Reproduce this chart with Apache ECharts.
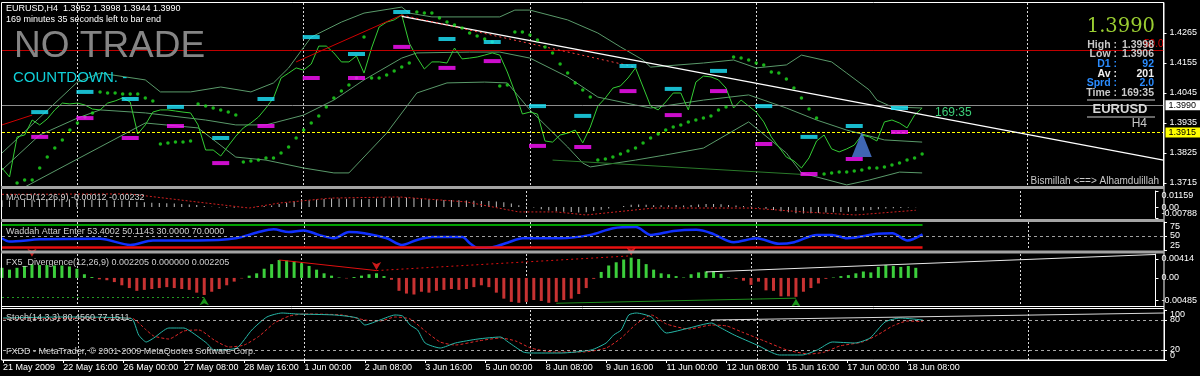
<!DOCTYPE html>
<html><head><meta charset="utf-8">
<script src="https://cdn.jsdelivr.net/npm/echarts@6/dist/echarts.min.js"></script>
<style>html,body{margin:0;padding:0;background:#000;}#c{width:1200px;height:376px;}</style>
</head><body><div id="c"></div>
<script>
// ---------- DATA ----------
const tickLabels = ['21 May 2009','22 May 16:00','26 May 00:00','27 May 08:00','28 May 16:00','1 Jun 00:00','2 Jun 08:00','3 Jun 16:00','5 Jun 00:00','8 Jun 08:00','9 Jun 16:00','11 Jun 00:00','12 Jun 08:00','15 Jun 16:00','17 Jun 00:00','18 Jun 08:00'];
const barsPerLabel = 8;
const slotCount = 155;          // bars + empty space on the right
const weekSeparators = [10, 40, 70, 100, 136];

const closePrices = [1.3770,1.3737,1.3884,1.3891,1.3946,1.3928,1.3950,1.3983,1.4008,1.4005,
 1.4008,1.4001,1.3986,1.3983,1.4008,1.4016,1.4027,1.4012,1.3895,1.3928,
 1.3975,1.3983,1.3983,1.3979,1.3975,1.3972,1.3928,1.3836,1.3836,1.3814,
 1.3851,1.3887,1.3917,1.3935,1.3957,1.3990,1.4027,1.4100,1.4118,1.4137,
 1.4129,1.4151,1.4217,1.4217,1.4192,1.4159,1.4159,1.4181,1.4118,1.4210,
 1.4287,1.4305,1.4313,1.4331,1.4228,1.4177,1.4133,1.4159,1.4159,1.4155,
 1.4210,1.4170,1.4173,1.4177,1.4184,1.4192,1.4184,1.4122,1.4049,1.3968,
 1.3975,1.3968,1.3869,1.3865,1.3891,1.3898,1.3909,1.3862,1.3920,1.3997,
 1.4027,1.4063,1.4071,1.4100,1.4137,1.4067,1.3997,1.3983,1.4012,1.4045,
 1.4045,1.3983,1.4085,1.4107,1.4104,1.4093,1.4063,1.3990,1.4019,1.3997,
 1.3975,1.3939,1.3884,1.3847,1.3810,1.3796,1.3770,1.3807,1.3869,1.3891,
 1.3840,1.3829,1.3840,1.3854,1.3891,1.3884,1.3869,1.3939,1.3946,1.3935,
 1.3917,1.3964,1.3990];

const sarValues = [null,null,1.3715,1.3726,1.3726,1.3770,1.3810,1.3843,1.3873,1.3909,
 1.3935,1.3957,1.3972,1.4049,1.4045,1.4045,1.4041,1.4041,1.4041,1.4027,
 1.4016,1.3858,1.3862,1.3865,1.3865,1.3869,1.4005,1.3997,1.3990,1.3983,
 1.3975,1.3964,1.3792,1.3796,1.3799,1.3807,1.3807,1.3825,1.3847,1.3880,
 1.3909,1.3935,1.3961,1.3994,1.4027,1.4052,1.4074,1.4100,1.4250,1.4100,
 1.4100,1.4111,1.4126,1.4140,1.4155,1.4342,1.4338,1.4338,1.4320,1.4305,
 1.4294,1.4283,1.4265,1.4254,1.4243,1.4232,1.4071,1.4074,1.4269,1.4269,
 1.4258,1.4239,1.4214,1.4192,1.4151,1.4118,1.4082,1.4056,1.4030,1.3799,
 1.3803,1.3810,1.3821,1.3832,1.3843,1.3862,1.3880,1.3895,1.3909,1.3920,
 1.3928,1.3939,1.3946,1.3953,1.3961,1.3983,1.3994,1.4177,1.4173,1.4166,
 1.4155,1.4148,1.4122,1.4118,1.4096,1.4063,1.4027,1.3986,1.3953,1.3748,
 1.3752,1.3755,1.3755,1.3759,1.3763,1.3770,1.3770,1.3774,1.3781,1.3788,
 1.3799,1.3807,1.3821];

const bbUpper = [[0,1.3825],[10,1.4085],[13,1.4118],[19,1.4093],[21,1.4049],[25,1.4049],[29,1.4067],[33,1.4049],[36,1.4082],[38,1.4137],[41,1.4250],[45,1.4305],[48,1.4338],[53,1.4360],[54,1.4338],[57,1.4324],[66,1.4324],[68,1.4349],[70,1.4349],[75,1.4313],[79,1.4265],[82,1.4214],[85,1.4166],[86,1.4140],[93,1.4155],[97,1.4166],[100,1.4137],[104,1.4148],[106,1.4184],[110,1.4159],[112,1.4118],[115,1.4056],[116,1.4019],[118,1.3994],[122,1.3990]];
const bbMiddle = [[0,1.3763],[5,1.3891],[10,1.3953],[13,1.3983],[19,1.3972],[27,1.3946],[31,1.3928],[35,1.3928],[40,1.3964],[44,1.4019],[48,1.4093],[53,1.4173],[55,1.4192],[62,1.4195],[66,1.4195],[70,1.4173],[75,1.4104],[79,1.4030],[84,1.4001],[86,1.3990],[93,1.4019],[99,1.4038],[104,1.3990],[108,1.3946],[112,1.3909],[117,1.3873],[122,1.3865]];
const bbLower = [[0,1.3653],[3,1.3700],[13,1.3847],[19,1.3935],[26,1.3917],[31,1.3810],[35,1.3799],[40,1.3770],[44,1.3752],[46,1.3752],[51,1.3898],[55,1.4045],[59,1.4082],[64,1.4085],[67,1.4082],[70,1.3983],[75,1.3847],[77,1.3788],[78,1.3774],[84,1.3799],[88,1.3818],[93,1.3843],[99,1.3939],[104,1.3825],[106,1.3752],[112,1.3708],[115,1.3726],[119,1.3755],[122,1.3752]];

const dayMarkIdx = [5,11,17,23,29,35,41,47,53,59,65,71,77,83,89,95,101,107,113,119];
const dayHighMarks = [1.3975,1.4049,1.4023,1.3994,1.3880,1.4023,1.4250,1.4188,1.4342,1.4243,1.4232,1.3997,1.3961,1.4144,1.4060,1.4126,1.3997,1.3884,1.3924,1.3990];
const dayLowMarks = [1.3884,1.3953,1.3880,1.3924,1.3788,1.3924,1.4100,1.4100,1.4214,1.4137,1.4162,1.3851,1.3847,1.4052,1.3964,1.4052,1.3858,1.3748,1.3803,1.3902];
const signalTriangle = [[114, 1.3856]];

const priceTicks = [1.3715,1.3825,1.3935,1.4045,1.4155,1.4265];
const fiboLevels = [[1.4187,'50.0'],[1.3738,'38.2']];
const bidPrice = 1.3990;
const yellowLevel = 1.3915;

const macdHist = [0.0050,0.0048,0.0052,0.0053,0.0055,0.0055,0.0056,0.0057,0.0058,0.0057,
 0.0056,0.0054,0.0052,0.0050,0.0049,0.0048,0.0047,0.0045,0.0038,0.0034,
 0.0031,0.0029,0.0027,0.0025,0.0022,0.0019,0.0015,0.0008,0.0003,-0.0003,
 -0.0005,-0.0004,-0.0002,0.0000,0.0003,0.0007,0.0012,0.0022,0.0032,0.0040,
 0.0045,0.0050,0.0055,0.0059,0.0061,0.0061,0.0060,0.0060,0.0057,0.0058,
 0.0062,0.0065,0.0068,0.0071,0.0069,0.0065,0.0060,0.0057,0.0054,0.0051,
 0.0051,0.0049,0.0047,0.0045,0.0044,0.0043,0.0041,0.0035,0.0026,0.0014,
 0.0005,-0.0003,-0.0015,-0.0025,-0.0030,-0.0034,-0.0036,-0.0040,-0.0037,-0.0029,
 -0.0020,-0.0010,0.0000,0.0008,0.0017,0.0019,0.0016,0.0013,0.0013,0.0014,
 0.0015,0.0011,0.0015,0.0019,0.0022,0.0023,0.0021,0.0015,0.0012,0.0008,
 0.0004,-0.0003,-0.0012,-0.0021,-0.0030,-0.0037,-0.0044,-0.0047,-0.0045,-0.0042,
 -0.0040,-0.0038,-0.0036,-0.0033,-0.0028,-0.0024,-0.0021,-0.0016,-0.0011,-0.0008,
 -0.0006,-0.0003,-0.00012];
const macdSignal = [[0,0.0092],[17,0.0095],[26,0.0037],[33,-0.0007],[37,0.0029],[44,0.0065],[53,0.0073],[62,0.0037],[69,-0.0035],[74,-0.0035],[78,-0.0057],[87,-0.0007],[100,-0.0007],[107,-0.0035],[114,-0.0057],[122,-0.0023]];
const macdEdgeTicks = [-0.00788, 0.01159];
const macdEdgeText = ['-0.00788','0.01159'];
const macdInnerTicks = [0];
const macdInnerText = ['0.00'];

const waeLine = [[0,46],[1,40],[5,44],[13,45],[17,34],[20,42],[26,42],[31,46],[34,57],[36,62],[38,57],[40,60],[42,52],[44,46],[46,57],[48,55],[51,46],[53,34],[55,43],[57,48],[61,48],[62,37],[63,29],[65,30],[67,38],[69,46],[74,46],[78,52],[81,64],[84,66],[86,52],[89,59],[92,61],[94,55],[97,39],[100,46],[103,36],[105,39],[108,52],[110,52],[112,46],[116,54],[118,55],[120,42],[122,53]];
const waeLevels = [70, 30];
const waeTicks = [25, 50, 75];

const fx5Hist = [0.0022,0.0018,0.0022,0.0026,0.0030,0.0028,0.0028,0.0027,0.0027,0.0025,0.0020,0.0008,0.0002,
 -0.0003,-0.0005,-0.0009,-0.0016,-0.0022,-0.0028,-0.0026,-0.0024,-0.0022,-0.0020,-0.0022,-0.0024,-0.0026,-0.0032,-0.0037,-0.0030,-0.0024,-0.0016,-0.0008,-0.0001,
 0.0005,0.0010,0.0020,0.0030,0.0039,0.0038,0.0036,0.0032,0.0026,0.0018,0.0010,0.0005,0.0001,-0.0001,0.0002,0.0005,0.0008,0.0010,0.0004,
 -0.0004,-0.0028,-0.0034,-0.0036,-0.0030,-0.0032,-0.0028,-0.0026,-0.0024,-0.0026,-0.0024,-0.0020,-0.0016,-0.0020,-0.0032,-0.0045,-0.0052,-0.0054,-0.0052,-0.0048,-0.0050,-0.0054,-0.0052,-0.0048,-0.0045,-0.0035,-0.0022,-0.0002,
 0.0013,0.0027,0.0034,0.0040,0.0044,0.0041,0.0030,0.0018,0.0010,0.0008,0.0004,0.0001,0.0008,0.0012,0.0014,0.0014,0.0009,0.0001,
 -0.0002,-0.0006,-0.0015,-0.0008,-0.0027,-0.0028,-0.0040,-0.0040,-0.0041,-0.0030,-0.0022,-0.0012,-0.0002,
 0.0001,0.0004,0.0006,0.0010,0.0014,0.0012,0.0024,0.0028,0.0026,0.0024,0.0026,0.0022];
const fx5DownArrows = [[4,0.0046],[50,0.0017],[84,0.0049]];
const fx5UpArrows = [[27,-0.0042],[106,-0.0045]];
const fx5Ticks = [-0.00485, 0, 0.00414];
const fx5TickText = ['-0.00485','0.00','0.00414'];

const stochMain = [[0,84],[8,86],[17,83],[18,50],[19,36],[20,44],[22,64],[24,64],[25,56],[27,34],[28,20],[31,24],[33,60],[35,86],[37,94],[39,92],[44,90],[47,84],[48,70],[50,80],[52,90],[53,88],[54,70],[55,60],[56,34],[58,24],[60,34],[63,42],[66,46],[67,36],[69,16],[70,14],[74,14],[78,20],[80,34],[81,50],[82,60],[83,90],[84,94],[86,86],[88,54],[91,64],[94,74],[95,66],[97,50],[100,30],[103,10],[106,10],[108,20],[110,36],[113,34],[115,44],[117,76],[119,84],[122,80]];
const stochSignal = [[0,82],[17,84],[19,60],[20,48],[22,42],[24,58],[26,60],[28,40],[30,26],[32,30],[34,48],[36,74],[38,88],[40,92],[45,90],[48,80],[50,78],[52,86],[54,82],[56,58],[58,36],[60,30],[63,38],[66,44],[68,38],[70,24],[73,16],[77,16],[80,24],[82,44],[84,72],[86,90],[88,72],[91,62],[94,70],[96,68],[98,56],[101,38],[104,20],[107,12],[109,16],[111,28],[114,36],[116,50],[118,68],[120,78],[122,77]];
const stochLevels = [80, 20];
const stochEdgeTicks = [0, 100];
const stochInnerTicks = [20, 80];

const infoRows = [['High :','1.3998','#c8c8c8'],['Low :','1.3906','#c8c8c8'],['D1 :','92','#2a8cff'],['Av :','201','#f0f0f0'],['Sprd :','2.0','#2a8cff'],['Time :','169:35','#c8c8c8']];

// ---------- BUILD ----------
const FONT = '"Liberation Sans", Arial, sans-serif';
const categories = [];
for (let i = 0; i < slotCount; i++) categories.push(String(i));
const isLabelIdx = (i) => i % barsPerLabel === 0 && (i / barsPerLabel) < tickLabels.length;
const zip = (a, b) => a.map((v, k) => [v, b[k]]);

const grids = [
  {left:2, right:36, top:3, height:183},
  {left:2, right:36, top:191, height:27},
  {left:2, right:36, top:222, height:28},
  {left:2, right:36, top:254, height:52},
  {left:2, right:36, top:310, height:50}
];
const xAxes = grids.map((g, gi) => ({
  type:'category', gridIndex:gi, data:categories, boundaryGap:false,
  axisLine:{show: gi === 4, lineStyle:{color:'#fff', width:1}},
  axisTick:{show: gi === 4, interval:(i) => isLabelIdx(i), length:3, lineStyle:{color:'#fff'}},
  axisLabel:{show: gi === 4, interval:(i) => isLabelIdx(i), formatter:(v, i) => tickLabels[Math.round(i / barsPerLabel)] || '',
    align:'left', color:'#fff', fontSize:9, margin:3, fontFamily:FONT},
  splitLine:{show:true, interval:(i) => weekSeparators.indexOf(i) >= 0, lineStyle:{color:'#d8d8d8', type:[2,2], width:1}}
}));
function yAxisFor(gi, min, max, ticks, fmt, edge, showLine) {
  return {
    type:'value', gridIndex:gi, position:'right', min:min, max:max,
    splitLine:{show:false},
    axisLine:{show:showLine, lineStyle:{color:'#fff', width:1}},
    axisTick:{show:true, customValues:ticks, length:3, lineStyle:{color:'#fff'}},
    axisLabel:{customValues:ticks, formatter:fmt, color:'#fff', fontSize:9, margin:6, fontFamily:FONT,
      showMinLabel:true, showMaxLabel:true, hideOverlap:false,
      verticalAlignMinLabel: edge ? 'bottom' : 'middle',
      verticalAlignMaxLabel: edge ? 'top' : 'middle'}
  };
}
const lookup = (vals, texts) => (v) => { let k = 0, d = 1e9; vals.forEach((x, j) => { if (Math.abs(x - v) < d) { d = Math.abs(x - v); k = j; } }); return texts[k]; };
const yAxes = [
  yAxisFor(0, 1.3704, 1.4375, priceTicks, (v) => v.toFixed(4), false, true),
  yAxisFor(1, -0.00788, 0.01159, macdEdgeTicks, lookup(macdEdgeTicks, macdEdgeText), true, true),
  yAxisFor(2, 25, 75, waeTicks, (v) => String(Math.round(v)), true, true),
  yAxisFor(3, -0.0061, 0.0052, fx5Ticks, lookup(fx5Ticks, fx5TickText), false, true),
  yAxisFor(4, 0, 100, stochEdgeTicks, (v) => String(Math.round(v)), true, true),
  yAxisFor(1, -0.00788, 0.01159, macdInnerTicks, lookup(macdInnerTicks, macdInnerText), false, false),
  yAxisFor(4, 0, 100, stochInnerTicks, (v) => String(Math.round(v)), false, false)
];

const seg = (a, b, style) => [{coord:a, lineStyle:style}, {coord:b}];
const boxLabel = (txt, bg) => ({show:true, position:'end', formatter:txt, color:'#000', backgroundColor:bg, padding:[1,8,0,3], fontSize:9, distance:2, fontFamily:FONT});

const series = [
  {type:'line', xAxisIndex:0, yAxisIndex:0, data:bbUpper, symbol:'none', lineStyle:{color:'#5a9a6a', width:1}, z:2},
  {type:'line', xAxisIndex:0, yAxisIndex:0, data:bbMiddle, symbol:'none', lineStyle:{color:'#5a9a6a', width:1}, z:2},
  {type:'line', xAxisIndex:0, yAxisIndex:0, data:bbLower, symbol:'none', lineStyle:{color:'#5a9a6a', width:1}, z:2},
  {type:'line', xAxisIndex:0, yAxisIndex:0, data:closePrices, symbol:'none', lineStyle:{color:'#34cc34', width:1}, z:4,
    markLine:{silent:true, symbol:['none','none'], animation:false, label:{show:false},
      data:[
        {yAxis:fiboLevels[0][0], lineStyle:{color:'#c00000', type:'solid', width:1}, label:{show:true, position:'insideEndTop', formatter:fiboLevels[0][1], color:'#e00000', fontSize:10, distance:[0,1], fontFamily:FONT}},
        {yAxis:fiboLevels[1][0], lineStyle:{color:'#c00000', type:'solid', width:1}, label:{show:true, position:'insideEndTop', formatter:fiboLevels[1][1], color:'#e00000', fontSize:10, distance:[0,1], fontFamily:FONT}},
        {yAxis:bidPrice, lineStyle:{color:'#8c8c8c', type:'solid', width:1}, label:boxLabel('1.3990', '#ffffff')},
        {yAxis:yellowLevel, lineStyle:{color:'#ffff00', type:[3,2], width:1}, label:boxLabel('1.3915', '#ffff00')},
        seg([0,1.3928],[4,1.3964], {color:'#d00000', type:'solid', width:1}),
        seg([39,1.4159],[53,1.4331], {color:'#d00000', type:'solid', width:1}),
        seg([73,1.3799],[107,1.3745], {color:'#2a7a2a', type:'solid', width:1}),
        seg([53,1.4326],[154,1.3799], {color:'#ffffff', type:'solid', width:1.2}),
        seg([53,1.4331],[84,1.4140], {color:'#ff4040', type:[2,3], width:1})
      ]}},
  {type:'scatter', xAxisIndex:0, yAxisIndex:0, data:sarValues, symbol:'circle', symbolSize:3.5, itemStyle:{color:'#1fe01f'}, z:5},
  {type:'scatter', xAxisIndex:0, yAxisIndex:0, data:zip(dayMarkIdx, dayHighMarks), symbol:'rect', symbolSize:[17,4], itemStyle:{color:'#1ee8ff'}, z:6},
  {type:'scatter', xAxisIndex:0, yAxisIndex:0, data:zip(dayMarkIdx, dayLowMarks), symbol:'rect', symbolSize:[17,4], itemStyle:{color:'#ff10ff'}, z:6},
  {type:'scatter', xAxisIndex:0, yAxisIndex:0, data:signalTriangle, symbol:'triangle', symbolSize:[20,25], itemStyle:{color:'#4f7fe0'}, z:6},

  {type:'bar', xAxisIndex:1, yAxisIndex:1, data:macdHist, barWidth:1, itemStyle:{color:'#c0c0c0'}, z:3},
  {type:'line', xAxisIndex:1, yAxisIndex:1, data:macdSignal, symbol:'none', lineStyle:{color:'#d02020', type:[2,2], width:1}, z:4},

  {type:'line', xAxisIndex:2, yAxisIndex:2, data:waeLine, symbol:'none', smooth:0.3, lineStyle:{color:'#1030ff', width:2.5}, z:4,
    markLine:{silent:true, symbol:['none','none'], animation:false, label:{show:false},
      data:[
        {yAxis:50, lineStyle:{color:'#a0a0a0', type:[3,3], width:1}},
        seg([0,waeLevels[0]],[122,waeLevels[0]], {color:'#00a000', type:'solid', width:2}),
        seg([0,waeLevels[1]],[122,waeLevels[1]], {color:'#e81010', type:'solid', width:2.5})
      ]}},

  {type:'bar', xAxisIndex:3, yAxisIndex:3, data:fx5Hist, barWidth:3, itemStyle:{color:(p) => p.value >= 0 ? '#3ccf3c' : '#c83232'}, z:3,
    markLine:{silent:true, symbol:['none','none'], animation:false, label:{show:false},
      data:[
        seg([37,0.0039],[50,0.0016], {color:'#e01010', type:'solid', width:1}),
        seg([50,0.0016],[84,0.0048], {color:'#e01010', type:[2,3], width:1}),
        seg([0,-0.0041],[27,-0.0041], {color:'#229922', type:[2,3], width:1}),
        seg([74,-0.0055],[106,-0.0044], {color:'#1e8c1e', type:'solid', width:1}),
        seg([94,0.0013],[154,0.0051], {color:'#e8e8e8', type:'solid', width:1})
      ]}},
  {type:'scatter', xAxisIndex:3, yAxisIndex:3, data:fx5DownArrows, symbol:'arrow', symbolRotate:180, symbolSize:[7,8], itemStyle:{color:'#ff2020'}, z:6},
  {type:'scatter', xAxisIndex:3, yAxisIndex:3, data:fx5UpArrows, symbol:'arrow', symbolSize:[7,8], itemStyle:{color:'#22bb22'}, z:6},

  {type:'line', xAxisIndex:4, yAxisIndex:4, data:stochSignal, symbol:'none', smooth:0.2, lineStyle:{color:'#e02828', type:[3,2], width:1}, z:3,
    markLine:{silent:true, symbol:['none','none'], animation:false, label:{show:false},
      data:[
        {yAxis:stochLevels[0], lineStyle:{color:'#a8a8a8', type:[3,3], width:1}},
        {yAxis:stochLevels[1], lineStyle:{color:'#a8a8a8', type:[3,3], width:1}},
        seg([94,80],[154,94], {color:'#d8d8d8', type:'solid', width:1})
      ]}},
  {type:'line', xAxisIndex:4, yAxisIndex:4, data:stochMain, symbol:'none', smooth:0.2, lineStyle:{color:'#26b8a8', width:1}, z:4}
];

const txt = (x, y, text, fill, font, align, extra) => Object.assign({type:'text', x:x, y:y, z:100, silent:true,
  style:{text:text, fill:fill, font:font, align:align || 'left', verticalAlign:'middle'}}, extra || {});
const graphics = [
  {type:'rect', z:90, silent:true, shape:{x:1.5, y:2.5, width:1162.5, height:357.5}, style:{fill:'none', stroke:'#ffffff', lineWidth:1}},
  {type:'rect', z:91, silent:true, shape:{x:1, y:186, width:1163, height:3}, style:{fill:'#a4a4a4'}},
  {type:'rect', z:91, silent:true, shape:{x:1, y:219, width:1163, height:3}, style:{fill:'#a4a4a4'}},
  {type:'rect', z:91, silent:true, shape:{x:1, y:250.5, width:1163, height:3}, style:{fill:'#a4a4a4'}},
  {type:'line', z:91, silent:true, shape:{x1:1, y1:306.5, x2:1164, y2:306.5}, style:{stroke:'#ffffff', lineWidth:1}},
  {type:'line', z:91, silent:true, shape:{x1:1, y1:308.5, x2:1164, y2:308.5}, style:{stroke:'#ffffff', lineWidth:1}},
  txt(6, 9, 'EURUSD,H4  1.3952 1.3998 1.3944 1.3990', '#ffffff', '9px ' + FONT),
  txt(6, 20, '169 minutes 35 seconds left to bar end', '#ffffff', '9px ' + FONT),
  txt(14, 47, 'NO TRADE', '#858585', '37px ' + FONT),
  txt(13, 78, 'COUNTDOWN. -', '#10d0d8', '15px ' + FONT),
  txt(1155, 27, '1.3990', '#9acd32', '19.5px "DejaVu Serif", serif', 'right'),
  {type:'line', z:100, silent:true, shape:{x1:1087, y1:100, x2:1155, y2:100}, style:{stroke:'#8a8a8a', lineWidth:1.5}},
  {type:'line', z:100, silent:true, shape:{x1:1087, y1:117, x2:1155, y2:117}, style:{stroke:'#8a8a8a', lineWidth:1.5}},
  txt(1120, 109, 'EURUSD', '#d8d8d8', 'bold 13px ' + FONT, 'center'),
  txt(1147, 124, 'H4', '#c8c8c8', '12px ' + FONT, 'right'),
  txt(935, 113, '169:35', '#3ccf78', '12px ' + FONT),
  txt(1159, 181, 'Bismillah <==> Alhamdulillah', '#c8c8c8', '10px ' + FONT, 'right'),
  txt(6, 198, 'MACD(12,26,9) -0.00012 -0.00232', '#d0d0d0', '9px ' + FONT),
  txt(6, 232, 'Waddah Attar Enter 53.4002 50.1143 30.0000 70.0000', '#d0d0d0', '9px ' + FONT),
  txt(6, 263, 'FX5_Divergence(12,26,9) 0.002205 0.000000 0.002205', '#d0d0d0', '9px ' + FONT),
  txt(6, 318, 'Stoch(14,3,3) 80.4560 77.1511', '#d0d0d0', '9px ' + FONT),
  txt(6, 352, 'FXDD - MetaTrader, \u00a9 2001-2009 MetaQuotes Software Corp.', '#d0d0d0', '9px ' + FONT)
];
infoRows.forEach((r, k) => {
  const y = 45 + k * 9.6;
  graphics.push(txt(1117, y, r[0], r[2], 'bold 10.5px ' + FONT, 'right'));
  graphics.push(txt(1154, y, r[1], r[2], 'bold 10.5px ' + FONT, 'right'));
});

const chart = echarts.init(document.getElementById('c'));
chart.setOption({
  backgroundColor:'#000000',
  animation:false,
  textStyle:{fontFamily:FONT},
  grid:grids, xAxis:xAxes, yAxis:yAxes, series:series, graphic:graphics
});
</script></body></html>
